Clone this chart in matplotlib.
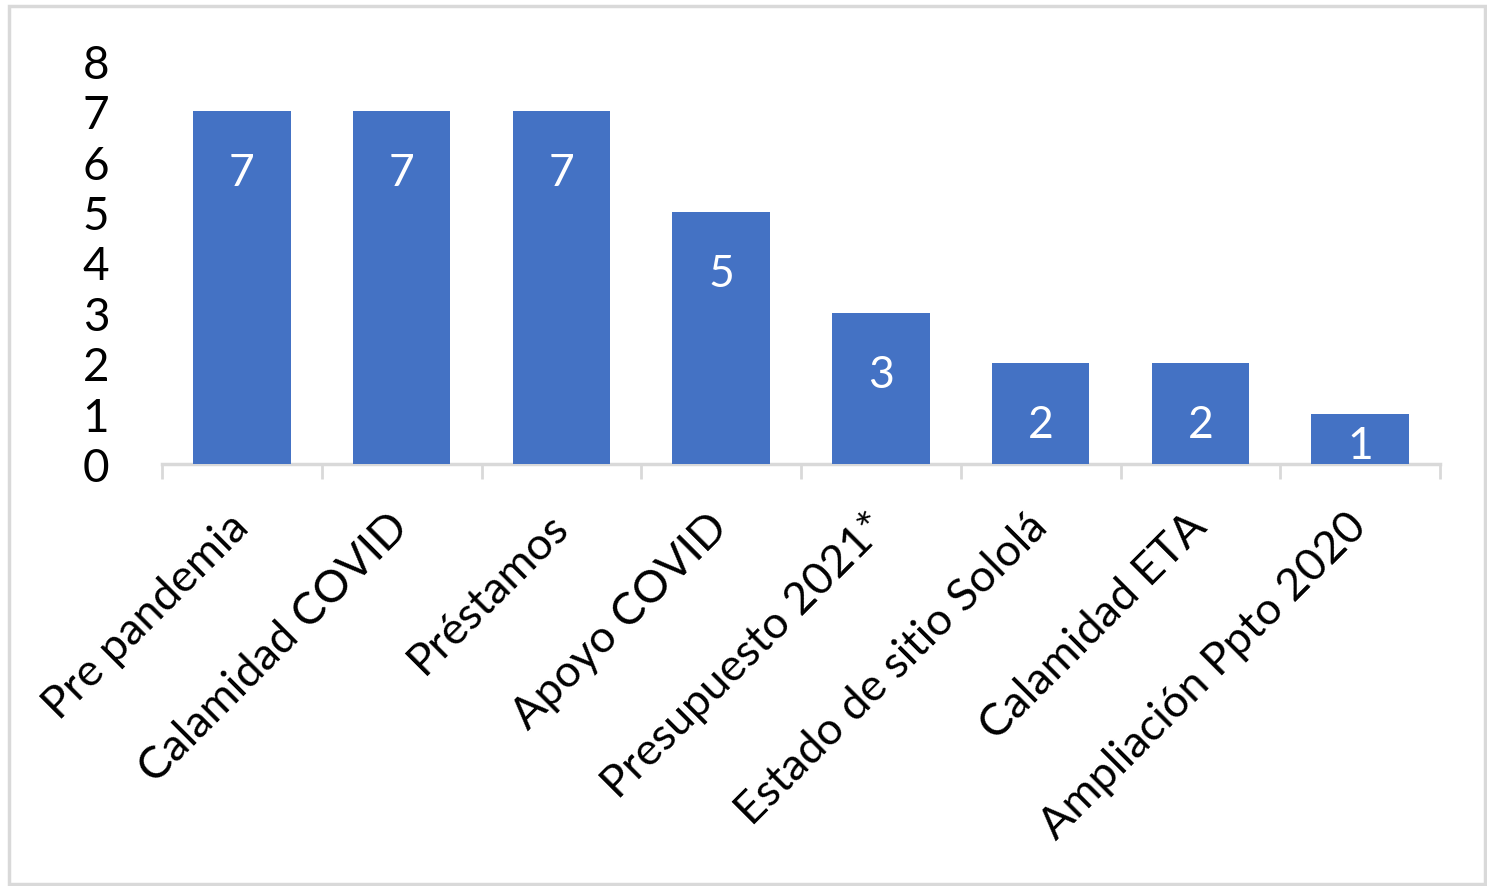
import matplotlib
matplotlib.use("Agg")
import matplotlib.pyplot as plt
from matplotlib.patches import Rectangle

# Donnees
categorias = ["Pre pandemia", "Calamidad COVID", "Préstamos", "Apoyo COVID",
              "Presupuesto 2021*", "Estado de sitio Sololá", "Calamidad ETA",
              "Ampliación Ppto 2020"]
valores = [7, 7, 7, 5, 3, 2, 2, 1]
ticks_y = [0, 1, 2, 3, 4, 5, 6, 7, 8]

plt.rcParams["font.family"] = ["Lato", "DejaVu Sans"]

azul = "#4472C4"
gris = "#D9D9D9"

fig = plt.figure(figsize=(14.87, 8.87), dpi=100)
fig.patch.set_facecolor("white")

# Cadre autour du graphique
fig.patches.append(Rectangle((9 / 1487, 2 / 887), 1476 / 1487, 878 / 887,
                             transform=fig.transFigure, fill=False,
                             edgecolor=gris, linewidth=2.5))

ax = fig.add_axes([162 / 1487, 1 - 465 / 887, 1278 / 1487, 403 / 887])

x = list(range(len(categorias)))
ax.bar(x, valores, width=0.61, color=azul, zorder=2)

# Etiquettes de donnees
for xi, v in zip(x, valores):
    y = max(v - 1.22, v * 0.36)
    ax.text(xi, y, str(v), color="white", fontsize=32,
            ha="center", va="center", zorder=3)

ax.set_xlim(-0.5, len(categorias) - 0.5)
ax.set_ylim(0, 8)
ax.set_yticks(ticks_y)
ax.set_yticklabels([str(t) for t in ticks_y], fontsize=33)
ax.tick_params(axis="y", length=0, pad=38)

ax.set_xticks(x)
ax.set_xticklabels(categorias, fontsize=32.5, rotation=45, ha="right",
                   rotation_mode="anchor", va="center")
ax.tick_params(axis="x", which="major", length=0, pad=40)
ax.set_xticks([i - 0.5 for i in range(len(categorias) + 1)], minor=True)
ax.tick_params(axis="x", which="minor", length=11, width=2, color=gris)

for s in ["top", "right", "left"]:
    ax.spines[s].set_visible(False)
ax.spines["bottom"].set_color(gris)
ax.spines["bottom"].set_linewidth(2.5)
ax.spines["bottom"].set_zorder(1)

fig.savefig("out.png", dpi=100, facecolor="white")
